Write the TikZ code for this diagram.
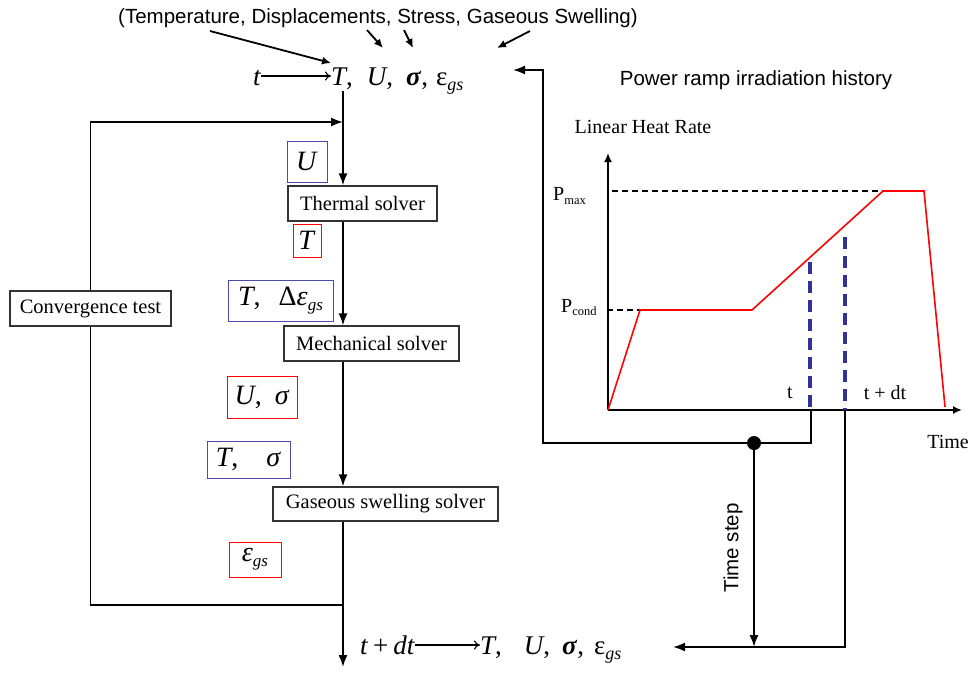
\documentclass[tikz,border=0pt]{standalone}
\usepackage{fontspec}
\setmainfont{Liberation Serif}
\setsansfont{Liberation Sans}
\usetikzlibrary{arrows.meta}
\newcommand{\setfs}[1]{\fontsize{#1}{#1}\selectfont}
\newcommand{\subgs}[2]{\raisebox{#1}{\setfs{#2}\itshape gs}}
\definecolor{bbox}{RGB}{75,75,175}
\definecolor{bdash}{RGB}{50,50,150}

\begin{document}

\begin{tikzpicture}[x=1pt,y=-1pt,
  line/.style={line width=1.8pt},
  arr/.style={line width=1.8pt,-{Latex[length=12pt,width=9pt]}},
  arrsmall/.style={line width=1.8pt,-{Latex[length=9pt,width=8pt]}},
  thinarr/.style={line width=1.1pt,-{To[length=6pt,width=9pt]}},
  solver/.style={draw=black!80,line width=1.3pt,inner sep=0pt,font=\setfs{20.5}},
  bluebox/.style={draw=bbox,line width=1pt,inner sep=0pt,font=\setfs{28}},
  redbox/.style={draw=red,line width=1pt,inner sep=0pt,font=\setfs{28}},
  formula/.style={inner sep=0pt,anchor=base west,font=\setfs{27}},
  sanslabel/.style={inner sep=0pt,font=\sffamily\setfs{20.5}},
  seriflabel/.style={inner sep=0pt,font=\setfs{20}},
  dashref/.style={line width=1.4pt,dash pattern=on 6pt off 4pt},
  bluedash/.style={bdash,line width=4pt,dash pattern=on 12pt off 7pt},
  curve/.style={red,line width=1.6pt}
]
\useasboundingbox (0,0) rectangle (973,673);
\fill[white] (0,0) rectangle (973,673);

% ---------- top annotation ----------
\node[sanslabel] (ann) at (378,18) {(Temperature, Displacements, Stress, Gaseous Swelling)};
\coordinate (a1s) at (210,31); \coordinate (a1e) at (331,63);
\coordinate (a2s) at (367,30); \coordinate (a2e) at (383,48);
\coordinate (a3s) at (404,30); \coordinate (a3e) at (413,48);
\coordinate (a4s) at (530,31); \coordinate (a4e) at (497,48);
\draw[arrsmall] (a1s) -- (a1e);
\draw[arrsmall] (a2s) -- (a2e);
\draw[arrsmall] (a3s) -- (a3e);
\draw[arrsmall] (a4s) -- (a4e);

% ---------- top formula ----------
\node[formula] (t0) at (253,85) {\textit{t}};
\node[formula] (f0) at (331,85) {\textit{T},\hspace{14pt}\textit{U},\hspace{13pt}\textbf{\textit{σ}},\hspace{8pt}ε\subgs{-5pt}{18}};
\coordinate (ya) at (0,76);
\draw[thinarr] (t0.east |- ya) -- (f0.west |- ya);

% ---------- solvers ----------
\node[solver,minimum width=149pt,minimum height=35pt] (thermal) at (362.5,203.5) {Thermal solver};
\node[solver,minimum width=175pt,minimum height=35pt] (mech) at (371.5,343.5) {Mechanical solver};
\node[solver,minimum width=225pt,minimum height=34pt] (gas) at (385.5,504) {Gaseous swelling solver};
\node[solver,minimum width=161pt,minimum height=35pt] (conv) at (90.5,308.5) {Convergence test};

% ---------- variable boxes ----------
\node[bluebox,minimum width=40pt,minimum height=41pt] (bU) at (307,161.5) {\textit{U}};
\node[redbox,minimum width=28pt,minimum height=33pt] (rT) at (307,240.5) {\textit{T}};
\node[bluebox,minimum width=105pt,minimum height=41pt] (bTde) at (280.5,300.5) {\textit{T},\hspace{18pt}Δ\textit{ε}\subgs{-5pt}{17}};
\node[redbox,minimum width=70pt,minimum height=42pt] (rUs) at (262,397) {\textit{U},\hspace{13pt}\textit{σ}};
\node[bluebox,minimum width=83pt,minimum height=37pt] (bTs) at (248.5,459.5) {\textit{T},\hspace{28pt}\textit{σ}};
\node[redbox,minimum width=52pt,minimum height=35pt] (re) at (255,559.5) {\textit{ε}\subgs{-5pt}{17}};

% ---------- main flow ----------
\coordinate (top) at (343,91);
\coordinate (jt) at (343,122);
\coordinate (jb) at (343,605);
\coordinate (bot) at (343,667);
\draw[arr] (top) -- (thermal.north -| top);
\draw[arr] (thermal.south -| top) -- (mech.north -| top);
\draw[arr] (mech.south -| top) -- (gas.north -| top);
\draw[arr] (gas.south -| top) -- (bot);
\draw[line] (jb) -| (conv.south);
\draw[arr] (conv.north) |- (jt);

% ---------- bottom formula ----------
\node[formula] (t1) at (360,654) {\textit{t}\hspace{5pt}+\hspace{5pt}\textit{dt}};
\node[formula] (f1) at (480,654) {\textit{T},\hspace{22pt}\textit{U},\hspace{12pt}\textbf{\textit{σ}},\hspace{10pt}ε\subgs{-5pt}{18}};
\coordinate (yb) at (0,645);
\draw[thinarr] (t1.east |- yb) -- (f1.west |- yb);

% ---------- graph ----------
\coordinate (O) at (608,410);
\coordinate (ytip) at (608,153);
\coordinate (xtip) at (962,410);
\draw[arrsmall] (O) -- (ytip);
\draw[arrsmall] (O) -- (xtip);
\draw[dashref] (612,191) -- (883,191);
\draw[dashref] (607,310) -- (708,310);
\draw[curve] (O) -- (640,310) -- (752,310) -- (883,191) -- (924,191) -- (945,407);
\draw[bluedash] (810,262) -- (810,410);
\draw[bluedash] (845,237) -- (845,410);

\node[sanslabel] (title) at (756,80) {Power ramp irradiation history};
\node[seriflabel] (lhr) at (643,127) {Linear Heat Rate};
\node[seriflabel,anchor=base west] (pmax) at (553,200) {P\raisebox{-4pt}{\setfs{12.5}max}};
\node[seriflabel,anchor=base west] (pcond) at (561,312) {P\raisebox{-3pt}{\setfs{12.5}cond}};
\node[seriflabel] (tl) at (790,393) {t};
\node[seriflabel] (tdl) at (885,393) {t + dt};
\node[seriflabel] (time) at (948,442) {Time};

% ---------- time stepping connectors ----------
\coordinate (tA) at (811,410);
\coordinate (c1) at (543,443);
\coordinate (c2) at (543,70);
\coordinate (c3) at (513,70);
\coordinate (dot) at (754,443);
\coordinate (dotend) at (754,647);
\coordinate (tB) at (845,410);
\coordinate (c4) at (673,647);
\draw[arr] (tA) |- (c1) -- (c2) -- (c3);
\fill (dot) circle (7pt);
\draw[arr] (dot) -- (dotend);
\draw[arr] (tB) |- (c4);
\node[sanslabel,rotate=90] (tstep) at (733,548) {Time step};
\end{tikzpicture}

\end{document}
